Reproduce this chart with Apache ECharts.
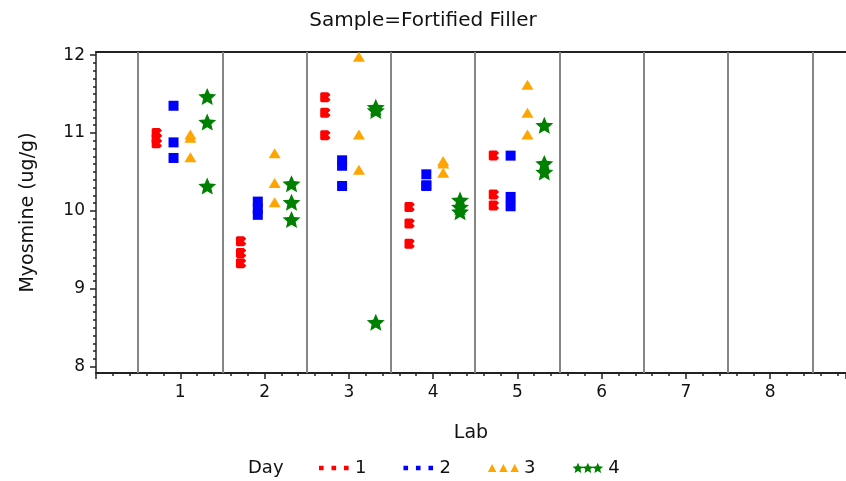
<!DOCTYPE html>
<html>
<head>
<meta charset="utf-8">
<script src="https://cdn.jsdelivr.net/npm/echarts@6/dist/echarts.min.js"></script>
<style>
  html, body { margin: 0; padding: 0; background: #fff; }
  #chart { width: 846px; height: 481px; }
</style>
</head>
<body>
<div id="chart"></div>
<script>
// labs on the x axis, days are drawn side by side inside each lab
var labs = [1, 2, 3, 4, 5];
var days = ['1', '2', '3', '4'];
var dayOffset = [-0.28, -0.08, 0.12, 0.32];

// myosmine (ug/g), 3 replicates per lab, one array per day
var day1 = [[11.00, 10.93, 10.87], [9.61, 9.46, 9.33], [11.46, 11.26, 10.97], [10.05, 9.84, 9.58], [10.71, 10.21, 10.07]];
var day2 = [[11.35, 10.88, 10.68], [10.12, 10.03, 9.95], [10.65, 10.58, 10.32], [10.47, 10.33, 10.32], [10.71, 10.18, 10.06]];
var day3 = [[10.98, 10.94, 10.69], [10.74, 10.36, 10.11], [11.98, 10.98, 10.53], [10.64, 10.61, 10.49], [11.62, 11.26, 10.98]];
var day4 = [[11.47, 11.14, 10.32], [10.35, 10.11, 9.89], [11.33, 11.29, 8.57], [10.14, 10.05, 9.99], [11.10, 10.61, 10.50]];

var xTicks = [1, 2, 3, 4, 5, 6, 7, 8];
var yTicks = [8, 9, 10, 11, 12];
var labBounds = [0.5, 1.5, 2.5, 3.5, 4.5, 5.5, 6.5, 7.5, 8.5];

var yMinor = [];
for (var t = 80; t <= 120; t++) yMinor.push(t / 10);

var colors = ['#ff0000', '#0000ff', '#ffa500', '#008000'];

function starPath(cx, cy, R, r) {
  var pts = [];
  for (var k = 0; k < 10; k++) {
    var a = -Math.PI / 2 + k * Math.PI / 5;
    var rad = k % 2 ? r : R;
    pts.push((cx + rad * Math.cos(a)).toFixed(2) + ',' + (cy + rad * Math.sin(a)).toFixed(2));
  }
  return 'M' + pts.join(' L') + ' Z ';
}

var dotPath = 'path://M0,1 L1,0 L7,0 L9,2 L9,3 L7,5 L9,7 L9,8 L7,10 L1,10 L0,9 Z';
var symbols = [dotPath, 'rect', 'triangle', 'path://' + starPath(50, 50, 50, 23)];
var sizes = [[10, 10], 10, [12, 10], [18, 17]];

// legend icons: three small marks in a 31x11 box (corner specks pin the box)
var corners = 'M0,0 L0.01,0 L0,0.01 Z M31,11 L30.99,11 L31,10.99 Z ';
function sq(x) { return 'M' + x + ',3.2 L' + (x + 4.6) + ',3.2 L' + (x + 4.6) + ',7.8 L' + x + ',7.8 Z '; }
function tri(x) { return 'M' + x + ',9.5 L' + (x + 4.2) + ',1.5 L' + (x + 8.4) + ',9.5 Z '; }
var legendIcons = [
  'path://' + corners + sq(0) + sq(12.5) + sq(25),
  'path://' + corners + sq(0) + sq(12.5) + sq(25),
  'path://' + corners + tri(0) + tri(11.3) + tri(22.6),
  'path://' + corners + starPath(5.6, 5.9, 5.6, 2.6) + starPath(15.5, 5.9, 5.6, 2.6) + starPath(25.4, 5.9, 5.6, 2.6)
];

var allDays = [day1, day2, day3, day4];
var series = [{
  type: 'scatter',
  name: 'bounds',
  data: [],
  silent: true,
  z: 1,
  markLine: {
    silent: true,
    symbol: 'none',
    animation: false,
    label: { show: false },
    lineStyle: { color: '#858585', width: 2, type: 'solid' },
    data: labBounds.map(function (v) { return { xAxis: v }; })
  }
}];
allDays.forEach(function (vals, d) {
  var pts = [];
  labs.forEach(function (lab, i) {
    vals[i].forEach(function (v) { pts.push([lab + dayOffset[d], v]); });
  });
  series.push({
    type: 'scatter',
    name: days[d],
    data: pts,
    symbol: symbols[d],
    symbolSize: sizes[d],
    z: 3,
    itemStyle: { color: colors[d], opacity: 1 }
  });
});

var textColor = '#111';
var lineColor = '#222';
var option = {
  animation: false,
  textStyle: { fontFamily: 'DejaVu Sans' },
  title: [
    { text: 'Sample=Fortified Filler', left: 'center', top: 6,
      textStyle: { fontSize: 20, fontWeight: 'normal', color: textColor, fontFamily: 'DejaVu Sans' } },
    { text: 'Day', left: 243, top: 454,
      textStyle: { fontSize: 18, fontWeight: 'normal', color: textColor, fontFamily: 'DejaVu Sans' } }
  ],
  grid: { left: 96, right: 0, top: 52, bottom: 108 },
  legend: {
    left: 314, top: 454,
    itemWidth: 31, itemHeight: 11, itemGap: 37,
    textStyle: { fontSize: 18, color: textColor },
    data: days.map(function (d, i) { return { name: d, icon: legendIcons[i] }; })
  },
  xAxis: [{
    type: 'value', min: 0, max: 8.9, interval: 1,
    name: 'Lab', nameLocation: 'middle', nameGap: 51,
    nameTextStyle: { fontSize: 19, color: textColor },
    axisLine: { show: true, onZero: false, lineStyle: { color: lineColor, width: 2 } },
    axisTick: { show: true, length: 6, lineStyle: { color: lineColor, width: 1.5 } },
    minorTick: { show: true, splitNumber: 5, length: 3, lineStyle: { color: lineColor, width: 1.5 } },
    axisLabel: { customValues: xTicks, fontSize: 17, color: textColor, margin: 11 },
    splitLine: { show: false }
  }, {
    // top frame line
    type: 'value', min: 0, max: 8.9, position: 'top',
    axisLine: { show: true, onZero: false, lineStyle: { color: lineColor, width: 2 } },
    axisTick: { show: false },
    axisLabel: { show: false },
    splitLine: { show: false }
  }],
  yAxis: [{
    type: 'value', min: 7.92, max: 12.04,
    name: 'Myosmine (ug/g)', nameLocation: 'middle', nameGap: 58,
    nameTextStyle: { fontSize: 19, color: textColor },
    axisLine: { show: true, onZero: false, lineStyle: { color: lineColor, width: 1.5 } },
    axisTick: { show: true, length: 6, customValues: yTicks, lineStyle: { color: lineColor, width: 1.5 } },
    axisLabel: { customValues: yTicks, fontSize: 17, color: textColor, margin: 11 },
    splitLine: { show: false }
  }, {
    type: 'value', min: 7.92, max: 12.04, position: 'left',
    axisLine: { show: false },
    axisTick: { show: true, length: 3, customValues: yMinor, lineStyle: { color: lineColor, width: 1.5 } },
    axisLabel: { show: false },
    splitLine: { show: false }
  }],
  series: series
};

var myChart = echarts.init(document.getElementById('chart'));
myChart.setOption(option);
</script>
</body>
</html>
